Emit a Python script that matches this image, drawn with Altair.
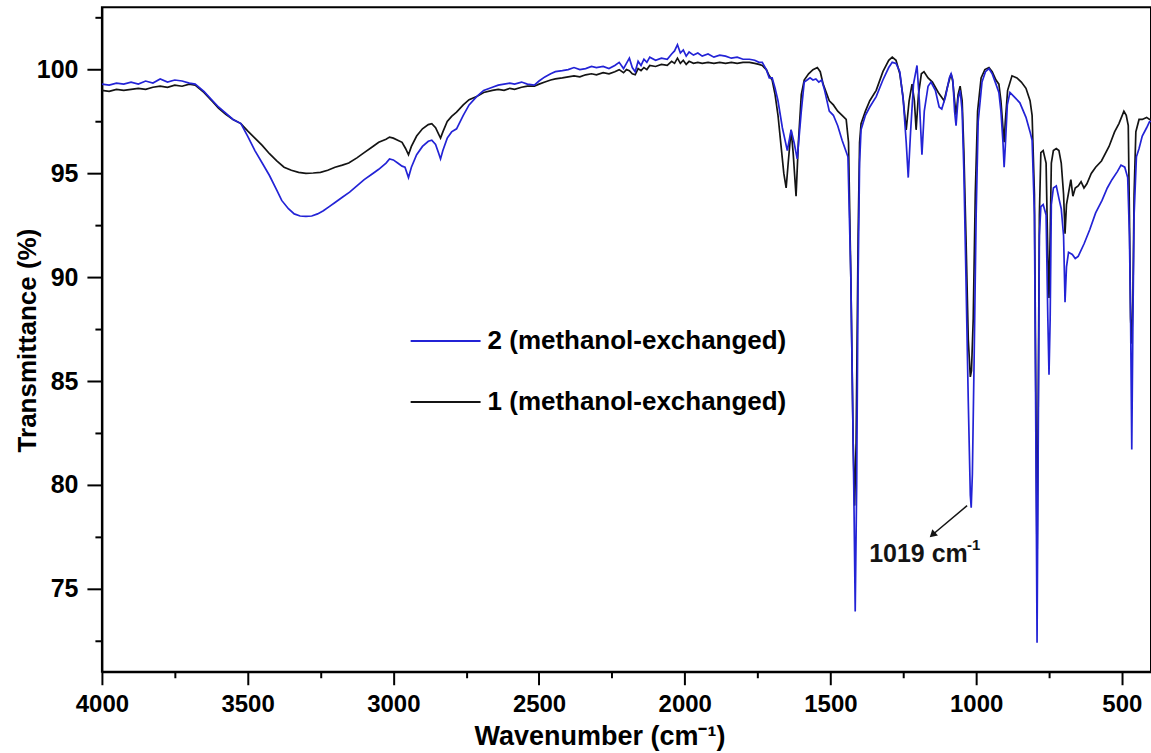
import altair as alt
import pandas as pd

S1 = "1 (methanol-exchanged)"
S2 = "2 (methanol-exchanged)"

# ---- series 2 (blue) ----
wn_2 = [4000, 3975, 3950, 3925, 3900, 3875, 3850, 3825, 3800, 3775, 3750, 3725, 3700, 3680, 3650, 3620, 3600, 3575, 3550, 3523,
        3500, 3475, 3450, 3425, 3400, 3383, 3360, 3340, 3320, 3300, 3280, 3260, 3240, 3220, 3200, 3175, 3150, 3125, 3100, 3075,
        3050, 3025, 3013, 3000, 2985, 2970, 2960, 2948, 2938, 2920, 2900, 2880, 2868, 2855, 2845, 2838, 2830, 2815, 2800, 2783,
        2760, 2740, 2714, 2690, 2660, 2640, 2620, 2600, 2584, 2560, 2540, 2516, 2500, 2480, 2460, 2444, 2420, 2400, 2380, 2360,
        2340, 2320, 2303, 2280, 2260, 2240, 2225, 2210, 2200, 2190, 2180, 2170, 2160, 2150, 2140, 2130, 2120, 2100, 2080, 2060,
        2045, 2035, 2025, 2015, 2005, 1995, 1985, 1970, 1955, 1940, 1920, 1900, 1880, 1860, 1840, 1820, 1800, 1778, 1760, 1745,
        1734, 1720, 1710, 1700, 1690, 1680, 1665, 1648, 1635, 1625, 1614, 1600, 1590, 1580, 1570, 1560, 1550, 1540, 1530, 1520,
        1504, 1490, 1475, 1460, 1450, 1440, 1430, 1420, 1415, 1410, 1405, 1400, 1395, 1380, 1365, 1343, 1320, 1300, 1288, 1275,
        1262, 1250, 1240, 1233, 1225, 1215, 1203, 1195, 1186, 1178, 1165, 1155, 1140, 1127, 1118, 1105, 1092, 1086, 1080, 1074,
        1069, 1062, 1055, 1048, 1042, 1035, 1027, 1020, 1017, 1013, 1007, 1000, 993, 980, 968, 956, 945, 932, 922, 915,
        908, 904, 900, 893, 884, 870, 850, 829, 815, 808, 800, 795, 791, 787, 783, 778, 770, 760, 754, 750,
        746, 742, 735, 725, 716, 708, 700, 695, 690, 683, 670, 660, 650, 630, 610, 590, 568, 550, 534, 515,
        503, 490, 480, 474, 470, 466, 462, 458, 450, 441, 430, 415, 405, 400]
t_2 = [99.30, 99.25, 99.35, 99.30, 99.40, 99.30, 99.45, 99.35, 99.55, 99.40, 99.50, 99.45, 99.35, 99.30, 98.95, 98.50, 98.20, 97.90, 97.60, 97.40,
       96.80, 96.10, 95.50, 94.90, 94.20, 93.70, 93.30, 93.05, 92.95, 92.93, 92.95, 93.05, 93.20, 93.40, 93.60, 93.85, 94.10, 94.40, 94.70, 94.95,
       95.20, 95.50, 95.70, 95.65, 95.50, 95.35, 95.30, 94.80, 95.30, 95.90, 96.30, 96.55, 96.60, 96.40, 96.00, 95.70, 96.10, 96.70, 97.00, 97.15,
       97.80, 98.30, 98.70, 99.00, 99.15, 99.25, 99.30, 99.35, 99.30, 99.40, 99.30, 99.25, 99.45, 99.65, 99.80, 99.90, 99.95, 100.00, 100.10, 100.00,
       100.05, 100.15, 100.10, 100.15, 100.05, 100.20, 100.35, 100.05, 100.30, 100.55, 100.10, 99.90, 100.40, 100.20, 100.50, 100.35, 100.60, 100.45, 100.55, 100.50,
       100.75, 100.90, 101.20, 100.80, 100.95, 100.65, 100.85, 100.70, 100.80, 100.65, 100.75, 100.60, 100.70, 100.65, 100.55, 100.60, 100.50, 100.50, 100.45, 100.35,
       100.35, 100.00, 99.60, 99.60, 99.10, 98.50, 97.20, 96.10, 97.10, 96.50, 95.70, 98.00, 99.40, 99.50, 99.60, 99.50, 99.55, 99.40, 99.50, 99.00,
       98.00, 97.80, 97.30, 96.60, 96.20, 95.80, 90.00, 80.00, 73.90, 80.00, 90.00, 95.50, 97.10, 97.80, 98.20, 98.70, 99.50, 100.10, 100.35, 100.30,
       99.90, 98.50, 96.50, 94.80, 97.00, 99.30, 100.20, 98.50, 95.90, 98.00, 99.20, 99.40, 99.00, 98.20, 98.10, 98.70, 99.60, 99.80, 99.50, 98.00,
       97.30, 98.60, 99.00, 98.00, 95.00, 90.00, 84.00, 79.50, 78.90, 80.50, 86.00, 93.00, 97.50, 99.40, 99.90, 100.05, 99.80, 99.30, 98.90, 98.00,
       96.50, 95.30, 96.30, 98.30, 98.90, 98.70, 98.40, 97.70, 97.00, 96.60, 93.00, 82.00, 72.40, 82.00, 92.00, 93.40, 93.50, 93.00, 88.00, 85.30,
       88.00, 93.50, 94.30, 94.40, 93.80, 93.30, 92.00, 88.80, 90.50, 91.20, 91.10, 90.90, 91.00, 91.60, 92.30, 93.10, 93.70, 94.30, 94.70, 95.10,
       95.40, 95.30, 94.80, 92.00, 88.00, 81.70, 88.00, 93.00, 95.80, 96.20, 96.80, 97.20, 97.50, 97.50]

# ---- series 1 (black) ----
wn_1 = [4000, 3975, 3950, 3925, 3900, 3875, 3850, 3825, 3800, 3775, 3750, 3725, 3700, 3680, 3650, 3620, 3600, 3575, 3550, 3523,
        3500, 3475, 3450, 3425, 3400, 3375, 3350, 3325, 3300, 3275, 3250, 3225, 3200, 3175, 3153, 3125, 3100, 3075, 3050, 3025,
        3013, 3000, 2985, 2970, 2958, 2948, 2938, 2920, 2900, 2880, 2868, 2855, 2845, 2838, 2830, 2815, 2800, 2783, 2760, 2740,
        2714, 2690, 2660, 2640, 2620, 2600, 2584, 2560, 2540, 2516, 2500, 2480, 2460, 2444, 2420, 2400, 2380, 2360, 2340, 2320,
        2303, 2280, 2260, 2240, 2225, 2210, 2200, 2190, 2180, 2170, 2160, 2150, 2140, 2130, 2120, 2100, 2080, 2060, 2045, 2035,
        2025, 2015, 2005, 1995, 1985, 1970, 1955, 1940, 1920, 1900, 1880, 1860, 1840, 1820, 1800, 1778, 1760, 1745, 1734, 1720,
        1710, 1700, 1690, 1680, 1670, 1660, 1652, 1645, 1635, 1628, 1618, 1610, 1600, 1590, 1575, 1560, 1545, 1535, 1525, 1504,
        1490, 1475, 1460, 1446, 1438, 1430, 1422, 1417, 1412, 1405, 1400, 1395, 1380, 1365, 1343, 1320, 1300, 1288, 1275, 1262,
        1252, 1240, 1230, 1220, 1212, 1206, 1198, 1188, 1179, 1165, 1150, 1130, 1110, 1098, 1086, 1080, 1074, 1069, 1062, 1055,
        1048, 1042, 1035, 1027, 1020, 1016, 1010, 1003, 995, 983, 970, 956, 945, 932, 922, 915, 908, 904, 900, 892,
        877, 860, 845, 829, 815, 808, 800, 795, 791, 787, 783, 778, 770, 760, 754, 750, 746, 742, 735, 725,
        716, 708, 700, 695, 690, 675, 668, 660, 650, 640, 630, 620, 605, 590, 570, 544, 525, 510, 493, 485,
        478, 474, 470, 466, 462, 458, 452, 441, 430, 415, 405, 400]
t_1 = [99.00, 98.95, 99.05, 99.00, 99.05, 99.10, 99.05, 99.15, 99.20, 99.15, 99.25, 99.20, 99.30, 99.25, 98.90, 98.45, 98.15, 97.85, 97.60, 97.40,
       97.05, 96.70, 96.35, 95.95, 95.60, 95.30, 95.15, 95.05, 95.00, 95.02, 95.05, 95.15, 95.30, 95.40, 95.50, 95.75, 96.00, 96.25, 96.50, 96.65,
       96.75, 96.70, 96.60, 96.50, 96.20, 95.90, 96.30, 96.80, 97.15, 97.35, 97.40, 97.20, 96.90, 96.70, 97.00, 97.50, 97.75, 97.95, 98.30, 98.55,
       98.70, 98.90, 99.00, 99.05, 99.00, 99.10, 99.05, 99.15, 99.20, 99.20, 99.30, 99.40, 99.50, 99.55, 99.60, 99.65, 99.70, 99.65, 99.75, 99.80,
       99.75, 99.85, 99.80, 99.90, 100.00, 99.85, 100.00, 99.95, 99.80, 99.75, 100.05, 99.95, 100.10, 100.00, 100.20, 100.15, 100.25, 100.20, 100.40, 100.30,
       100.55, 100.30, 100.45, 100.25, 100.40, 100.30, 100.35, 100.30, 100.35, 100.30, 100.35, 100.30, 100.35, 100.30, 100.35, 100.35, 100.30, 100.25, 100.20, 100.00,
       99.70, 99.50, 98.80, 97.80, 96.40, 95.00, 94.30, 95.50, 97.10, 96.00, 93.90, 96.50, 98.80, 99.50, 99.80, 100.00, 100.10, 99.90, 99.30, 98.50,
       98.30, 98.00, 97.80, 97.60, 96.50, 90.00, 82.00, 79.00, 82.00, 92.00, 96.50, 97.40, 98.00, 98.50, 99.00, 99.90, 100.45, 100.60, 100.45, 99.80,
       98.80, 97.10, 98.50, 99.30, 98.50, 97.10, 98.80, 99.80, 99.90, 99.60, 99.40, 98.90, 98.50, 99.20, 99.80, 99.40, 98.50, 97.80, 98.80, 99.20,
       98.50, 96.00, 92.00, 87.00, 85.20, 85.50, 88.00, 94.00, 98.00, 99.60, 100.00, 100.10, 99.90, 99.50, 99.30, 98.50, 97.20, 96.50, 97.50, 99.00,
       99.70, 99.60, 99.40, 99.10, 98.50, 97.80, 94.00, 84.00, 76.00, 84.00, 93.00, 96.00, 96.10, 95.50, 91.00, 89.00, 92.00, 95.50, 96.10, 96.20,
       96.10, 95.50, 94.00, 92.10, 93.50, 94.70, 93.90, 94.30, 94.40, 94.60, 94.30, 94.50, 95.00, 95.30, 95.60, 96.30, 97.00, 97.40, 98.00, 97.80,
       97.30, 93.00, 88.00, 86.80, 89.00, 94.00, 97.00, 97.60, 97.60, 97.70, 97.60, 97.60]

x_ticks = [4000, 3750, 3500, 3250, 3000, 2750, 2500, 2250, 2000, 1750, 1500, 1250, 1000, 750, 500]
y_ticks = [72.5, 75, 77.5, 80, 82.5, 85, 87.5, 90, 92.5, 95, 97.5, 100, 102.5]

# annotation
ann_text = ["1019 cm"]
ann_text_wn = [1367]
ann_text_t = [76.3]
ann_sup = ["-1"]
ann_sup_wn = [1031]
ann_sup_t = [76.87]
arrow_from = (1031, 79.0)
arrow_to = (1150, 77.6)

BLUE = "#2323d6"
BLACK = "#141414"
FONT = "Liberation Sans"

df = pd.concat([
    pd.DataFrame({"wn": wn_1, "T": t_1, "series": S1}),
    pd.DataFrame({"wn": wn_2, "T": t_2, "series": S2}),
])

xscale = alt.Scale(domain=[400, 4000], reverse=True, nice=False, zero=False)
yscale = alt.Scale(domain=[71, 103], nice=False, zero=False)

xaxis = alt.Axis(
    values=x_ticks, title="Wavenumber (cm⁻¹)",
    labelExpr="datum.value % 500 == 0 ? datum.label : ''",
    tickSize={"condition": {"test": "datum.value % 500 != 0", "value": 6}, "value": 13},
    labelPadding=8, labelFontSize=24, labelFontWeight="bold", labelFont=FONT,
    titleFontSize=27, titleFontWeight="bold", titleFont=FONT,
    titleX=498, titleY=65, titleBaseline="middle", titleAlign="center",
    grid=False, domainColor="black", domainWidth=2, tickColor="black", tickWidth=2,
    labelColor="black", titleColor="black", format="d", labelFlush=False, labelOverlap=False,
)
yaxis = alt.Axis(
    values=y_ticks, title="Transmittance (%)",
    labelExpr="datum.value % 5 == 0 ? datum.label : ''",
    tickSize={"condition": {"test": "datum.value % 5 != 0", "value": 7}, "value": 15},
    labelPadding=9, labelFontSize=25, labelFontWeight="bold", labelFont=FONT,
    titleFontSize=26, titleFontWeight="bold", titleFont=FONT,
    titleX=-74, titleY=333, titleBaseline="middle", titleAlign="center", titleAngle=-90,
    grid=False, domainColor="black", domainWidth=2, tickColor="black", tickWidth=2,
    labelColor="black", titleColor="black", format="d", labelFlush=False, labelOverlap=False,
)

color = alt.Color(
    "series:N",
    scale=alt.Scale(domain=[S2, S1], range=[BLUE, BLACK]),
    legend=alt.Legend(
        title=None, orient="none", legendX=308, legendY=298,
        symbolType="stroke", symbolSize=4900, symbolStrokeWidth=2,
        labelFontSize=26, labelFontWeight="bold", labelFont=FONT, labelColor="black",
        labelOffset=6, rowPadding=12, padding=0, labelLimit=0,
    ),
)

base = alt.Chart(df).mark_line(strokeWidth=1.7, clip=True).encode(
    x=alt.X("wn:Q", scale=xscale, axis=xaxis),
    y=alt.Y("T:Q", scale=yscale, axis=yaxis),
    color=color,
    order="wn:Q",
)
line1 = base.transform_filter(alt.datum.series == S1)
line2 = base.transform_filter(alt.datum.series == S2)

arrow_df = pd.DataFrame({"x": [arrow_from[0]], "y": [arrow_from[1]], "x2": [arrow_to[0]], "y2": [arrow_to[1]]})
arrow = alt.Chart(arrow_df).mark_rule(color=BLACK, strokeWidth=1.5).encode(
    x=alt.X("x:Q", scale=xscale), y=alt.Y("y:Q", scale=yscale), x2="x2:Q", y2="y2:Q")
head = alt.Chart(pd.DataFrame({"x": [arrow_to[0]], "y": [arrow_to[1]]})).mark_point(
    shape="triangle-up", filled=True, color=BLACK, size=70, angle=228, opacity=1).encode(
    x=alt.X("x:Q", scale=xscale), y=alt.Y("y:Q", scale=yscale))

txt = alt.Chart(pd.DataFrame({"x": ann_text_wn, "y": ann_text_t, "t": ann_text})).mark_text(
    align="left", baseline="alphabetic", fontSize=25, fontWeight="bold", font=FONT, color=BLACK).encode(
    x=alt.X("x:Q", scale=xscale), y=alt.Y("y:Q", scale=yscale), text="t:N")
sup = alt.Chart(pd.DataFrame({"x": ann_sup_wn, "y": ann_sup_t, "t": ann_sup})).mark_text(
    align="left", baseline="alphabetic", fontSize=15, fontWeight="bold", font=FONT, color=BLACK).encode(
    x=alt.X("x:Q", scale=xscale), y=alt.Y("y:Q", scale=yscale), text="t:N")

chart = alt.layer(line1, line2, arrow, head, txt, sup).properties(
    width=1050, height=665,
    autosize=alt.AutoSizeParams(type="none"),
    padding={"left": 102, "top": 7, "right": 0, "bottom": 81},
    background="white",
).configure_view(stroke="black", strokeWidth=2)

chart.save("out.html", embed_options={"renderer": "svg", "actions": False})
